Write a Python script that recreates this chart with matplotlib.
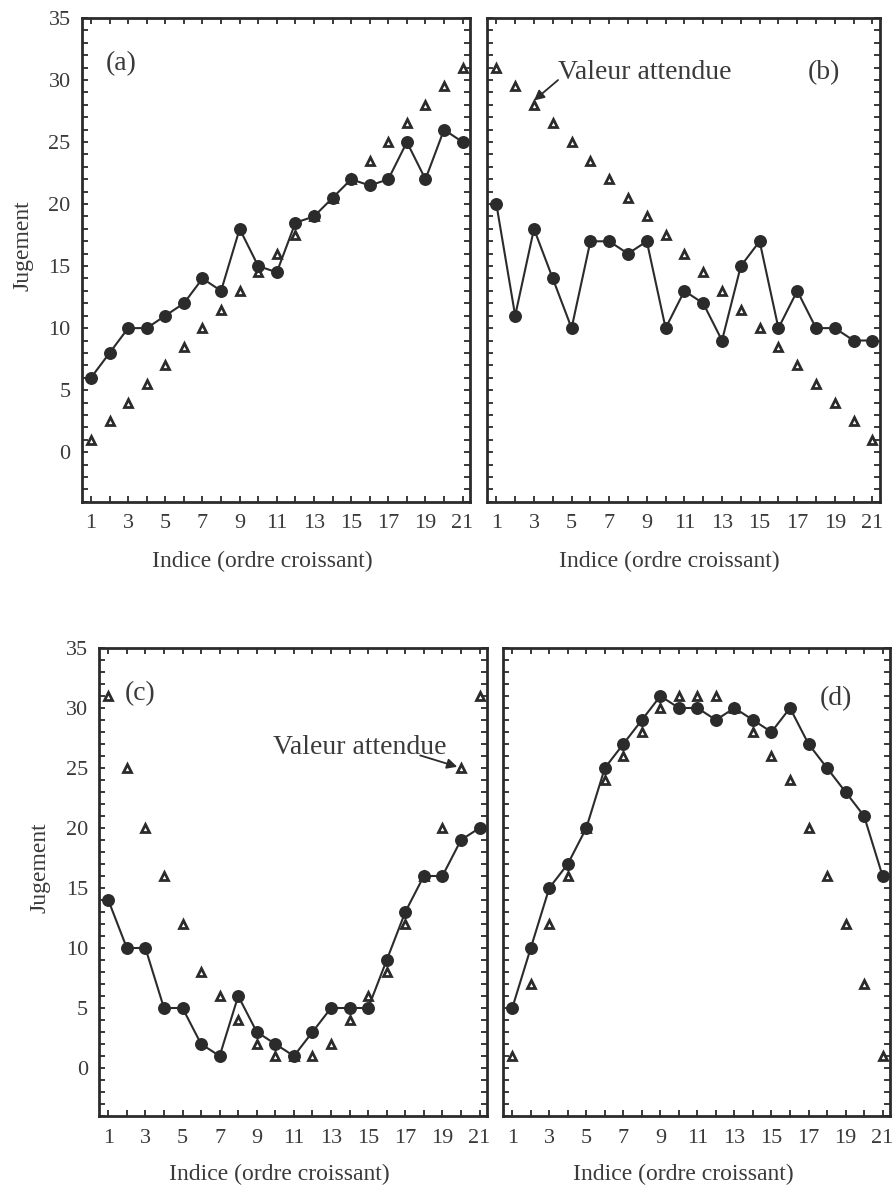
import matplotlib
matplotlib.use("Agg")
import matplotlib.pyplot as plt
from matplotlib.ticker import MultipleLocator, FixedLocator

plt.rcParams["font.family"] = ["Liberation Serif", "DejaVu Serif"]

# observed judgements (filled circles) and expected values (triangles)
indices = list(range(1, 22))

obs_a = [6, 8, 10, 10, 11, 12, 14, 13, 18, 15, 14.5, 18.5, 19, 20.5, 22, 21.5, 22, 25, 22, 26, 25]
exp_a = [1, 2.5, 4, 5.5, 7, 8.5, 10, 11.5, 13, 14.5, 16, 17.5, 19, 20.5, 22, 23.5, 25, 26.5, 28, 29.5, 31]

obs_b = [20, 11, 18, 14, 10, 17, 17, 16, 17, 10, 13, 12, 9, 15, 17, 10, 13, 10, 10, 9, 9]
exp_b = [31, 29.5, 28, 26.5, 25, 23.5, 22, 20.5, 19, 17.5, 16, 14.5, 13, 11.5, 10, 8.5, 7, 5.5, 4, 2.5, 1]

obs_c = [14, 10, 10, 5, 5, 2, 1, 6, 3, 2, 1, 3, 5, 5, 5, 9, 13, 16, 16, 19, 20]
exp_c = [31, 25, 20, 16, 12, 8, 6, 4, 2, 1, 1, 1, 2, 4, 6, 8, 12, 16, 20, 25, 31]

obs_d = [5, 10, 15, 17, 20, 25, 27, 29, 31, 30, 30, 29, 30, 29, 28, 30, 27, 25, 23, 21, 16]
exp_d = [1, 7, 12, 16, 20, 24, 26, 28, 30, 31, 31, 31, 30, 28, 26, 24, 20, 16, 12, 7, 1]

x_ticklabels = [str(i) if i % 2 == 1 else "" for i in indices]
y_major = [0, 5, 10, 15, 20, 25, 30, 35]

DARK = "#2b2b2b"
TXT = "#3a3a3a"

fig = plt.figure(figsize=(8.95, 11.87), dpi=100)

# panel rectangles in figure fractions (left, bottom, width, height)
rects = {
    "a": [0.0913, 0.5773, 0.4339, 0.4075],
    "b": [0.5441, 0.5773, 0.4391, 0.4075],
    "c": [0.1106, 0.0598, 0.4335, 0.3943],
    "d": [0.5620, 0.0598, 0.4324, 0.3943],
}
panels = {
    "a": (obs_a, exp_a, (2.65, 31.3)),
    "b": (obs_b, exp_b, (18.4, 30.6)),
    "c": (obs_c, exp_c, (2.7, 31.2)),
    "d": (obs_d, exp_d, (18.5, 30.8)),
}

axes = {}
for key, (obs, exp, lab_pos) in panels.items():
    ax = fig.add_axes(rects[key])
    axes[key] = ax
    ax.plot(indices, exp, linestyle="none", marker="^", ms=5.5,
            mfc="white", mec=DARK, mew=2.0, zorder=3)
    ax.plot(indices, obs, color=DARK, lw=1.5, marker="o", ms=8.3,
            mfc=DARK, mec=DARK, zorder=4)
    ax.set_xlim(0.5, 21.4)
    ax.set_ylim(-4, 35)

    ax.xaxis.set_major_locator(FixedLocator(indices))
    ax.set_xticklabels(x_ticklabels)
    ax.yaxis.set_major_locator(MultipleLocator(1))
    if key in ("a", "c"):
        ax.set_yticklabels([str(int(v)) if v in y_major else "" for v in ax.get_yticks()])
        ax.set_ylabel("Jugement", fontsize=17, color=TXT)
        ax.yaxis.set_label_coords(-0.125, 0.53)
    else:
        ax.set_yticklabels([])

    ax.tick_params(direction="in", top=True, right=True, length=4, width=1.3,
                   color=DARK, labelsize=16, labelcolor=TXT)
    ax.tick_params(axis="x", pad=9)
    ax.tick_params(axis="y", pad=8)
    for sp in ax.spines.values():
        sp.set_linewidth(2.0)
        sp.set_color(DARK)

    ax.set_xlabel("Indice (ordre croissant)", fontsize=17, color=TXT)
    ax.xaxis.set_label_coords(0.465, -0.102)
    ax.text(lab_pos[0], lab_pos[1], f"({key})", fontsize=20, color=TXT,
            ha="center", va="center")

arrow = dict(arrowstyle="-|>", color=DARK, lw=1.3, mutation_scale=15,
             shrinkA=0, shrinkB=0)

axes["b"].text(4.3, 30.6, "Valeur attendue", fontsize=20, color=TXT,
               ha="left", va="center")
axes["b"].annotate("", xy=(3.0, 28.35), xytext=(4.28, 30.0), arrowprops=arrow)

axes["c"].text(9.9, 26.7, "Valeur attendue", fontsize=20, color=TXT,
               ha="left", va="center", zorder=2)
axes["c"].annotate("", xy=(19.8, 25.1), xytext=(17.8, 26.05), arrowprops=arrow)

fig.savefig("out.png", dpi=100)
